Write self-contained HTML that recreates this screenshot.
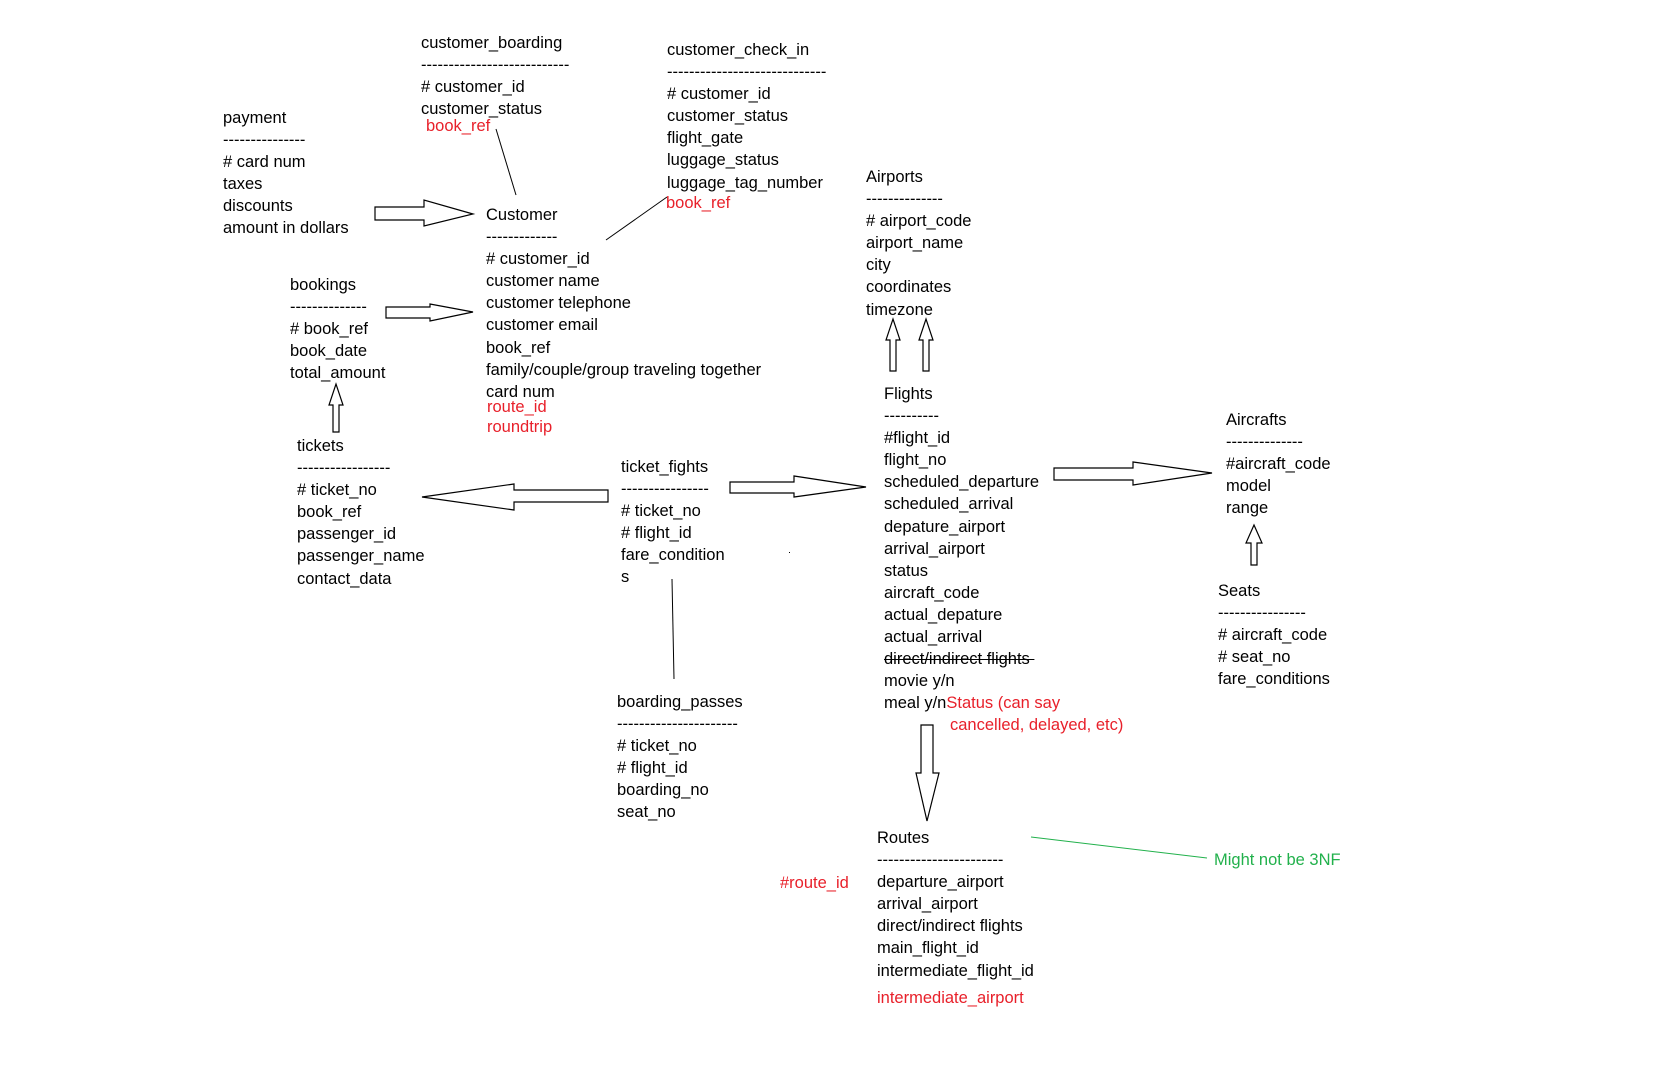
<!DOCTYPE html>
<html><head><meta charset="utf-8"><style>
html,body{margin:0;padding:0;background:#fff;}
body{width:1674px;height:1070px;position:relative;overflow:hidden;font-family:"Liberation Sans",sans-serif;font-size:16.5px;color:#000;}
.b{position:absolute;line-height:22.1px;white-space:nowrap;}
.r{color:#e8202a;}
.g{color:#22b14c;}
svg{position:absolute;left:0;top:0;}
</style></head><body>
<svg width="1674" height="1070" fill="#fff" stroke="#000" stroke-width="1.2">
<polygon points="375,207 424,207 424,200 473,214 424,226 424,220 375,220"/>
<polygon points="386,307 430,307 430,304 473,312 430,321 430,318 386,318"/>
<polygon points="333,432 339,432 339,405 343,405 336,384 329,405 333,405"/>
<polygon points="608,490 514,490 514,484 422,497 514,510 514,502 608,502"/>
<polygon points="730,482 794,482 794,476 866,487 794,497 794,493 730,493"/>
<polygon points="1054,468 1133,468 1133,462 1212,473 1133,485 1133,480 1054,480"/>
<polygon points="890,371 896,371 896,340 900,340 893,319 886,340 890,340"/>
<polygon points="923,371 929,371 929,340 933,340 926,319 919,340 923,340"/>
<polygon points="1251,565 1257,565 1257,543 1262,543 1254,525 1246,543 1251,543"/>
<polygon points="921,725 933,725 933,773 939,773 927,821 916,773 921,773"/>
<line x1="496" y1="129" x2="516" y2="195" stroke-width="1"/>
<line x1="606" y1="240" x2="667" y2="197" stroke-width="1"/>
<line x1="672" y1="579" x2="674" y2="679" stroke-width="1"/>
<line x1="1031" y1="837" x2="1207" y2="858" stroke="#22b14c" stroke-width="1"/>
<rect x="789" y="552" width="1" height="1" fill="#000" stroke="none"/>
</svg>

<div class="b" style="left:421px;top:32px">customer_boarding<br>---------------------------<br># customer_id<br>customer_status</div>
<div class="b r" style="left:426px;top:115px">book_ref</div>

<div class="b" style="left:667px;top:39px">customer_check_in<br>-----------------------------<br># customer_id<br>customer_status<br>flight_gate<br>luggage_status<br>luggage_tag_number</div>
<div class="b r" style="left:666px;top:192px">book_ref</div>

<div class="b" style="left:223px;top:107px">payment<br>---------------<br># card num<br>taxes<br>discounts<br>amount in dollars</div>

<div class="b" style="left:486px;top:204px">Customer<br>-------------<br># customer_id<br>customer name<br>customer telephone<br>customer email<br>book_ref<br>family/couple/group traveling together<br>card num</div>
<div class="b r" style="left:487px;top:398px;line-height:19.5px">route_id<br>roundtrip</div>

<div class="b" style="left:290px;top:274px">bookings<br>--------------<br># book_ref<br>book_date<br>total_amount</div>

<div class="b" style="left:297px;top:435px">tickets<br>-----------------<br># ticket_no<br>book_ref<br>passenger_id<br>passenger_name<br>contact_data</div>

<div class="b" style="left:621px;top:456px">ticket_fights<br>----------------<br># ticket_no<br># flight_id<br>fare_condition<br>s</div>

<div class="b" style="left:617px;top:691px">boarding_passes<br>----------------------<br># ticket_no<br># flight_id<br>boarding_no<br>seat_no</div>

<div class="b" style="left:866px;top:166px">Airports<br>--------------<br># airport_code<br>airport_name<br>city<br>coordinates<br>timezone</div>

<div class="b" style="left:884px;top:383px">Flights<br>----------<br>#flight_id<br>flight_no<br>scheduled_departure<br>scheduled_arrival<br>depature_airport<br>arrival_airport<br>status<br>aircraft_code<br>actual_depature<br>actual_arrival<br><span style="text-decoration:line-through">direct/indirect flights&nbsp;</span><br>movie y/n<br>meal y/n<span class="r">Status (can say</span></div>
<div class="b r" style="left:950px;top:714px">cancelled, delayed, etc)</div>

<div class="b" style="left:1226px;top:409px">Aircrafts<br>--------------<br>#aircraft_code<br>model<br>range</div>

<div class="b" style="left:1218px;top:580px">Seats<br>----------------<br># aircraft_code<br># seat_no<br>fare_conditions</div>

<div class="b" style="left:877px;top:827px">Routes<br>-----------------------<br>departure_airport<br>arrival_airport<br>direct/indirect flights<br>main_flight_id<br>intermediate_flight_id</div>
<div class="b r" style="left:877px;top:987px">intermediate_airport</div>
<div class="b r" style="left:780px;top:872px">#route_id</div>
<div class="b g" style="left:1214px;top:849px">Might not be 3NF</div>
</body></html>
